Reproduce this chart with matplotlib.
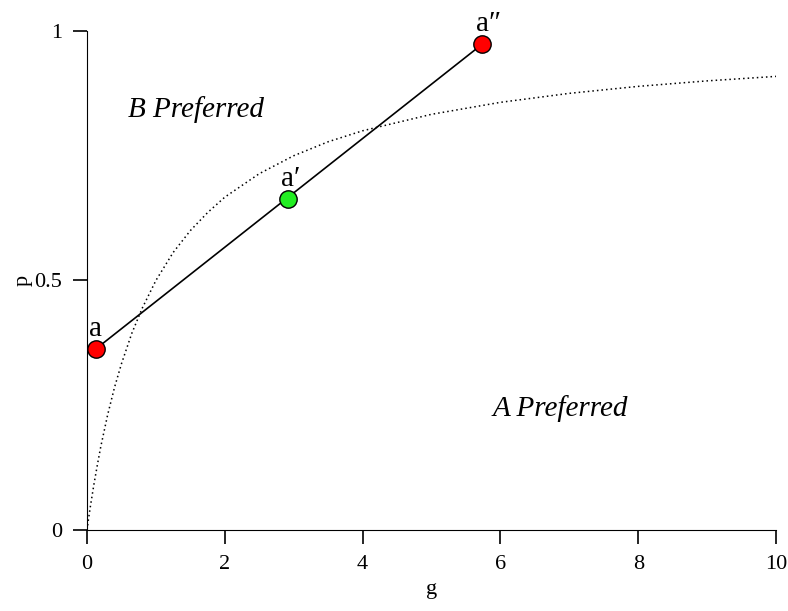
import numpy as np
import matplotlib.pyplot as plt

plt.rcParams['font.family'] = ['Liberation Serif', 'DejaVu Serif']

# indifference curve
curve_g = [0, 0.02, 0.05, 0.1, 0.15, 0.2, 0.3, 0.4, 0.5, 0.65, 0.8, 1.0, 1.25, 1.5, 1.75,
           2.0, 2.5, 3.0, 3.5, 4.0, 5.0, 6.0, 7.0, 8.0, 9.0, 10.0]
curve_p = [0, 0.02, 0.048, 0.091, 0.13, 0.167, 0.231, 0.286, 0.333, 0.394, 0.444, 0.5,
           0.556, 0.6, 0.636, 0.667, 0.714, 0.75, 0.778, 0.8, 0.833, 0.857, 0.875,
           0.889, 0.9, 0.909]

# points a, a', a''
pt_labels = ['a', 'a\u2032', 'a\u2033']
pt_g = [0.13, 2.91, 5.74]
pt_p = [0.363, 0.664, 0.974]
pt_colors = ['#ff0000', '#22ee22', '#ff0000']

region_labels = ['B Preferred', 'A Preferred']
region_g = [0.6, 5.89]
region_p = [0.828, 0.228]

xticks = [0, 2, 4, 6, 8, 10]
yticks = [0, 0.5, 1]
ytick_labels = ['0', '0.5', '1']

fig = plt.figure(figsize=(7.88, 6.11), dpi=100)
ax = fig.add_axes([0.1104, 0.1326, 0.8744, 0.8167])

ax.plot(curve_g, curve_p, color='black', linestyle=(0, (1, 2)), linewidth=1.1)
ax.plot([pt_g[0], pt_g[2]], [pt_p[0], pt_p[2]], color='black', linewidth=1.2)

for lab, g, p, c in zip(pt_labels, pt_g, pt_p, pt_colors):
    ax.plot(g, p, 'o', markersize=12.5, markerfacecolor=c, markeredgecolor='black',
            markeredgewidth=1.0, clip_on=False, zorder=5)
    ax.annotate(lab, (g, p), xytext=(-5, 9), textcoords='offset points',
                ha='left', va='baseline', fontsize=21)

for lab, g, p in zip(region_labels, region_g, region_p):
    ax.text(g, p, lab, fontsize=21, style='italic', ha='left', va='baseline')

ax.set_xlim(0, 10)
ax.set_ylim(0, 1)
ax.set_xticks(xticks)
ax.set_yticks(yticks)
ax.set_yticklabels(ytick_labels)
ax.spines['top'].set_visible(False)
ax.spines['right'].set_visible(False)
ax.tick_params(direction='out', length=10, width=1.2, labelsize=16, pad=8)
ax.set_xlabel('g', fontsize=16, labelpad=4)
ax.set_ylabel('p', fontsize=16, labelpad=1)

fig.savefig('out.png', dpi=100)
